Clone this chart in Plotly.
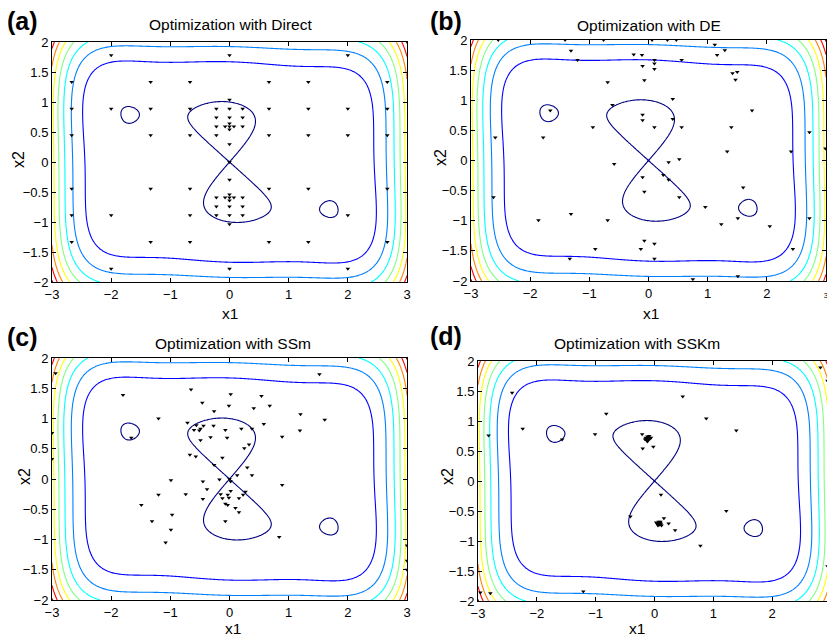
import numpy as np
import plotly.graph_objects as go

# The page body adds an 8 px margin, so the figure is sized to fit the 835x640 window
W, H = 827, 632
OFF = 8  # screen pixel -> figure pixel offset

# ---------------- data ----------------
# Test function shown as contours: six-hump camel back
def camel(x1, x2):
    return (4 - 2.1 * x1**2 + x1**4 / 3) * x1**2 + x1 * x2 + (-4 + 4 * x2**2) * x2**2

grid_x1 = np.linspace(-3, 3, 240)
grid_x2 = np.linspace(-2, 2, 160)
contour_levels = dict(start=0, end=160, size=20)

panel_titles = ["Optimization with Direct", "Optimization with DE",
                "Optimization with SSm", "Optimization with SSKm"]
panel_letters = ["(a)", "(b)", "(c)", "(d)"]
x_ticks = [-3, -2, -1, 0, 1, 2, 3]
y_ticks = [-2, -1.5, -1, -0.5, 0, 0.5, 1, 1.5, 2]

direct_pts = [
    (-2, 1.778), (0, 1.778), (2, 1.778),
    (-2.667, 1.333), (-1.333, 1.333), (-0.667, 1.333), (0.667, 1.333), (1.333, 1.333), (2.667, 1.333),
    (0, 1.037),
    (-2.667, 0.889), (-2, 0.889), (-1.333, 0.889), (-0.667, 0.889), (-0.222, 0.889), (0, 0.889),
    (0.222, 0.889), (0.667, 0.889), (1.333, 0.889), (2, 0.889), (2.667, 0.889),
    (-0.222, 0.741), (0, 0.741), (0.222, 0.741),
    (0, 0.642),
    (-0.222, 0.593), (-0.074, 0.593), (0, 0.593), (0.074, 0.593), (0.222, 0.593),
    (0, 0.543),
    (-2.667, 0.444), (-1.333, 0.444), (-0.667, 0.444), (-0.222, 0.444), (0.667, 0.444),
    (1.333, 0.444), (2, 0.444), (2.667, 0.444),
    (0, 0.296), (0, 0), (0, -0.296),
    (-2.667, -0.444), (-1.333, -0.444), (-0.667, -0.444), (0.667, -0.444), (1.333, -0.444), (2.667, -0.444),
    (0, -0.543),
    (-0.222, -0.593), (-0.074, -0.593), (0, -0.593), (0.074, -0.593), (0.222, -0.593),
    (0, -0.642),
    (-0.222, -0.741), (0, -0.741), (0.222, -0.741),
    (-2.667, -0.889), (-2, -0.889), (-0.667, -0.889), (-0.222, -0.889), (0, -0.889), (0.222, -0.889), (2, -0.889),
    (0, -1.037),
    (-2.667, -1.333), (-1.333, -1.333), (-0.667, -1.333), (0.667, -1.333), (1.333, -1.333), (2.667, -1.333),
    (-2, -1.778), (0, -1.778), (2, -1.778),
]

de_pts = [
    (-1.31, 1.82), (-1.20, 1.67), (-0.69, 1.30), (-0.61, 0.92), (-0.94, 0.55), (-1.66, 0.83),
    (-1.78, 0.38), (-2.59, 0.38), (-2.62, -0.61), (-1.86, -0.99), (-1.31, -0.89), (-0.69, -0.99),
    (-0.90, -1.47), (-1.33, -1.63), (-0.58, -0.06), (-2.54, 2.0), (-1.41, 2.0), (-0.76, 2.0),
    (0.06, 2.0), (0.32, 2.0), (0.47, 2.0), (1.12, 1.92), (1.29, 1.83), (1.16, 1.75), (-0.25, 1.76),
    (-0.11, 1.75), (0.10, 1.67), (0.10, 1.61), (-0.10, 1.57), (0.10, 1.52), (-0.07, 1.33),
    (0.56, 1.67), (1.42, 1.45), (1.50, 1.47), (1.47, 1.34), (0.41, 1.02), (1.75, 0.83),
    (-0.10, 0.76), (-0.10, 0.67), (0.10, 0.55), (0.41, 0.69), (0.56, 0.55), (1.40, 0.55),
    (1.33, 0.15), (2.72, 0.47), (2.41, 0.15), (2.99, 0.20), (0.34, -0.03), (0.52, 0.02),
    (-0.10, -0.28), (0.25, -0.24), (0.34, -0.32), (-0.07, -0.52), (0.52, -0.61), (0.96, -0.77),
    (1.60, -0.45), (1.51, -0.96), (1.23, -1.06), (2.05, -1.09), (2.72, -0.96), (2.44, -1.47),
    (1.51, -1.92), (0.75, -1.97), (-0.07, -1.33), (0.10, -1.38), (-0.13, -1.47), (0.10, -1.63),
]

ssm_pts = [
    (-2.94, 1.75), (-3.0, 0.76), (-3.0, 0.33), (-1.80, 1.39), (-1.20, 1.00), (-1.66, 0.68),
    (-0.65, 1.48), (-0.46, 1.26), (-0.26, 1.12), (0.02, 1.40), (-0.01, 1.21), (0.41, 1.17),
    (0.54, 1.37), (0.68, 1.21), (1.52, 1.73), (1.20, 1.07), (1.61, 0.98), (1.19, 0.80),
    (0.89, 0.70), (0.58, 0.91), (0.20, 0.83), (0.38, 0.83), (-0.07, 0.81), (-0.04, 0.68),
    (-0.27, 0.88), (-0.44, 0.88), (-0.71, 0.93), (-0.60, 0.81), (-0.51, 0.80), (-0.49, 0.83),
    (-0.56, 0.89), (-0.49, 0.64), (-0.32, 0.69), (0.33, 0.57), (0.25, 0.51), (-0.67, 0.40),
    (-0.57, 0.37), (-0.12, 0.35), (-0.26, 0.23), (0.30, 0.19), (0.38, 0.06), (0.13, 0.06),
    (0.0, 0.0), (-0.17, -0.01), (0.02, -0.04), (-0.45, -0.04), (-0.38, -0.17), (-0.99, -0.02),
    (-1.20, -0.26), (-0.74, -0.25), (-0.45, -0.33), (-0.15, -0.25), (-0.12, -0.32), (-0.03, -0.26),
    (-0.01, -0.31), (0.02, -0.20), (0.27, -0.21), (0.23, -0.26), (0.16, -0.32), (-0.07, -0.41),
    (-0.03, -0.43), (0.10, -0.48), (0.16, -0.55), (-1.49, -0.43), (-0.97, -0.59), (-1.31, -0.70),
    (-0.99, -0.84), (-1.08, -1.05), (-0.07, -0.70), (0.84, -0.96), (0.89, -0.10),
    (3.0, -1.10), (3.0, -1.35), (3.0, -1.50),
]

sskm_pts = [
    (-2.42, 1.47), (-2.24, 0.87), (-2.82, 0.76), (-1.57, 0.69), (-1.01, 0.78), (-0.82, 1.12),
    (0.48, 1.41), (0.88, 1.04), (1.39, 0.84), (2.82, 1.89), (2.94, 1.67), (2.94, -1.42),
    (-2.96, -1.86), (-2.79, -1.87), (-1.21, -1.84), (-0.21, 0.78), (-0.20, 0.54), (-0.02, 0.57),
    (0.11, -0.23), (-0.41, -0.59), (0.16, -0.62), (0.24, -0.71), (0.35, -0.82), (1.22, -0.50),
    (0.78, -1.08),
    (-0.15, 0.72), (-0.12, 0.74), (-0.09, 0.72), (-0.10, 0.69), (-0.13, 0.68), (-0.08, 0.70),
    (-0.11, 0.71), (-0.14, 0.70), (-0.09, 0.75), (-0.06, 0.72), (-0.12, 0.66), (-0.16, 0.69),
    (0.04, -0.70), (0.07, -0.68), (0.10, -0.70), (0.08, -0.73), (0.05, -0.72), (0.09, -0.71),
    (0.06, -0.74), (0.11, -0.72), (0.03, -0.69), (0.07, -0.71), (0.10, -0.68), (0.12, -0.74),
]

panel_points = [direct_pts, de_pts, ssm_pts, sskm_pts]

# ---------------- layout geometry (screen pixels) ----------------
# plot-area boxes: (left, right, top, bottom)
boxes = [(52, 407, 42, 282), (471, 826, 40, 281), (52, 407, 358, 600), (478, 831, 361, 601)]
title_pos = [(230, 24), (649, 25), (233, 343), (637, 343)]
letter_pos = [(22, 21), (446, 21), (22, 337), (446, 336)]
ylabel_pos = [(19, 160), (441, 158), (24, 477), (447, 477)]
xlabel_pos = [(230, 313), (651, 313), (233, 628), (637, 628)]


def fx(px):
    return (px - OFF) / W


def fy(py):
    return 1 - (py - OFF) / H


MATLAB_JET = [[0.0, "rgb(0,0,128)"], [0.125, "rgb(0,0,255)"], [0.375, "rgb(0,255,255)"],
              [0.625, "rgb(255,255,0)"], [0.875, "rgb(255,0,0)"], [1.0, "rgb(128,0,0)"]]

FONT = "Liberation Sans, Arial, Helvetica, sans-serif"

X1, X2 = np.meshgrid(grid_x1, grid_x2)
Z = camel(X1, X2)

fig = go.Figure()
annotations = []

for i in range(4):
    ax = "" if i == 0 else str(i + 1)
    xa, ya = "x" + ax, "y" + ax
    fig.add_trace(go.Contour(
        x=grid_x1, y=grid_x2, z=Z, xaxis=xa, yaxis=ya,
        contours=dict(coloring="lines", **contour_levels),
        colorscale=MATLAB_JET, zmin=float(Z.min()), zmax=float(Z.max()),
        line=dict(width=1.1), showscale=False, hoverinfo="skip"))
    pts = panel_points[i]
    fig.add_trace(go.Scatter(
        x=[p[0] for p in pts], y=[p[1] for p in pts], xaxis=xa, yaxis=ya,
        mode="markers", marker=dict(symbol="triangle-down", size=4, color="black"),
        showlegend=False))

    l, r, t, b = boxes[i]
    xticktext = None
    if i == 1:
        xticktext = ["\u22123", "\u22122", "\u22121", "0", "1", "2",
                     "<span style='font-size:8px'>3</span>"]
    fig.layout["xaxis" + ax] = dict(
        domain=[fx(l), fx(r)], anchor=ya, range=[-3, 3], automargin=False,
        tickmode="array", tickvals=x_ticks,
        ticktext=xticktext, ticklabeloverflow="allow",
        showline=True, mirror="ticks", linecolor="black", linewidth=1,
        ticks="inside", ticklen=4, tickcolor="black",
        showgrid=False, zeroline=False,
        tickfont=dict(family=FONT, size=13, color="black"))
    fig.layout["yaxis" + ax] = dict(
        domain=[fy(b), fy(t)], anchor=xa, range=[-2, 2], automargin=False,
        tickmode="array", tickvals=y_ticks, ticklabeloverflow="allow",
        showline=True, mirror="ticks", linecolor="black", linewidth=1,
        ticks="inside", ticklen=4, tickcolor="black",
        showgrid=False, zeroline=False,
        tickfont=dict(family=FONT, size=13, color="black"))

    tx, ty = title_pos[i]
    annotations.append(dict(text=panel_titles[i], x=fx(tx), y=fy(ty), xref="paper", yref="paper",
                            showarrow=False, xanchor="center", yanchor="middle",
                            font=dict(family=FONT, size=15.5, color="black")))
    lx, ly = letter_pos[i]
    annotations.append(dict(text="<b>" + panel_letters[i] + "</b>", x=fx(lx), y=fy(ly),
                            xref="paper", yref="paper", showarrow=False,
                            xanchor="center", yanchor="middle",
                            font=dict(family=FONT, size=25, color="black")))
    yx, yy = ylabel_pos[i]
    annotations.append(dict(text="x2", x=fx(yx), y=fy(yy), xref="paper", yref="paper",
                            showarrow=False, textangle=-90, xanchor="center", yanchor="middle",
                            font=dict(family=FONT, size=16, color="black")))
    xx, xy = xlabel_pos[i]
    annotations.append(dict(text="x1", x=fx(xx), y=fy(xy), xref="paper", yref="paper",
                            showarrow=False, xanchor="center", yanchor="middle",
                            font=dict(family=FONT, size=15.5, color="black")))

fig.update_layout(
    width=W, height=H, margin=dict(l=0, r=0, t=0, b=0),
    paper_bgcolor="white", plot_bgcolor="white",
    showlegend=False, annotations=annotations,
)

fig.write_html("out.html")
